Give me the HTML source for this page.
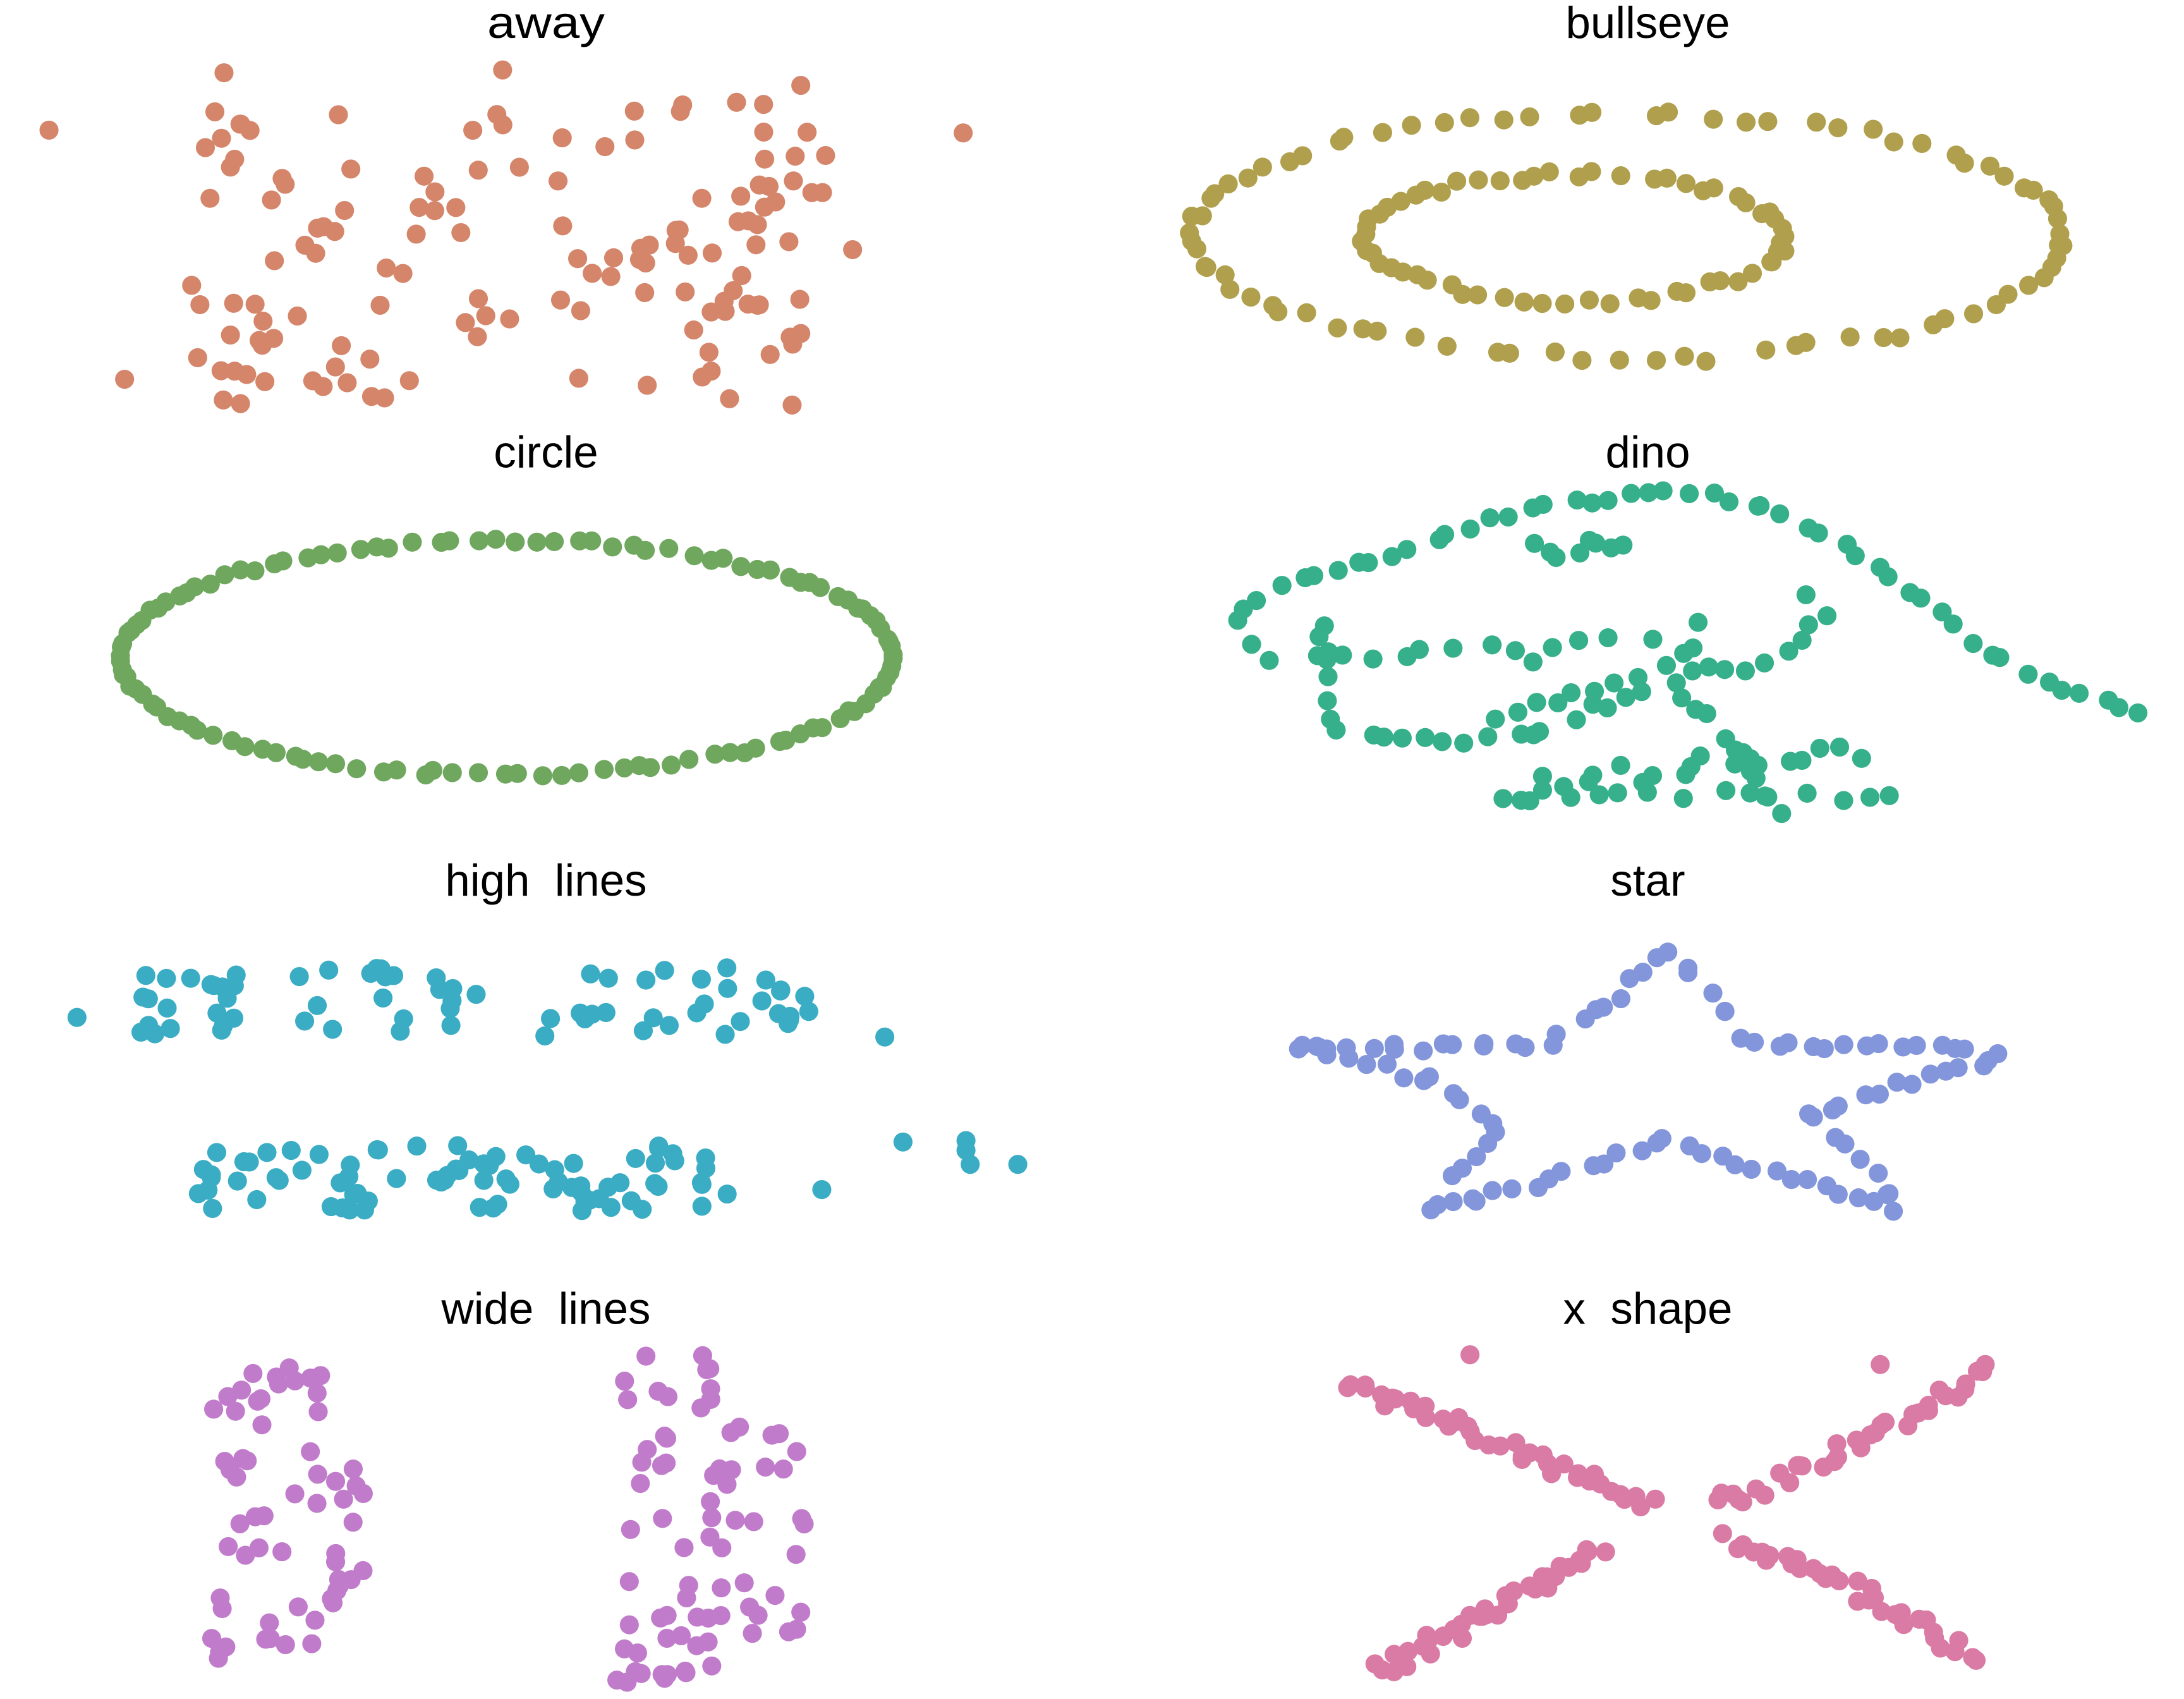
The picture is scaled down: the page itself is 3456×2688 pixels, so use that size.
<!DOCTYPE html>
<html><head><meta charset="utf-8">
<style>
html,body{margin:0;padding:0;background:#fff;width:3456px;height:2688px;overflow:hidden}
svg{display:block}
text{font-family:"Liberation Sans",sans-serif;font-size:32px;fill:#000;text-anchor:middle;white-space:pre}
</style></head>
<body>
<svg id="s" width="3456" height="2688" viewBox="0 0 1560 1214" preserveAspectRatio="none" xmlns="http://www.w3.org/2000/svg">
<text x="390" y="27" textLength="84" lengthAdjust="spacingAndGlyphs">away</text>
<text x="1177" y="27">bullseye</text>
<text x="390" y="334">circle</text>
<text x="1177" y="334">dino</text>
<text x="390" y="640" xml:space="preserve">high  lines</text>
<text x="1177" y="640">star</text>
<text x="390" y="946" xml:space="preserve">wide  lines</text>
<text x="1177" y="946" xml:space="preserve">x  shape</text>
<g id="g"></g>
</svg>
<script>
var seed=12345;function R(){seed=(seed*1103515245+12345)%2147483648;return seed/2147483648;}
var g=document.getElementById('g'),out='';
function P(x,y,c){out+='<circle cx="'+x.toFixed(1)+'" cy="'+y.toFixed(1)+'" r="6.8" fill="'+c+'"/>';}
function poly(pts,n,c,j){var L=[],T=0;for(var i=1;i<pts.length;i++){var d=Math.hypot(pts[i][0]-pts[i-1][0],pts[i][1]-pts[i-1][1]);L.push(d);T+=d;}
for(var k=0;k<n;k++){var t=(k+0.5+(R()-.5)*0.8)/n*T,i=0;while(t>L[i]&&i<L.length-1){t-=L[i];i++;}var f=Math.min(1,Math.max(0,t/L[i]));P(pts[i][0]+(pts[i+1][0]-pts[i][0])*f+(R()-.5)*j,pts[i][1]+(pts[i+1][1]-pts[i][1])*f+(R()-.5)*j,c);}}
// away
var c='#D4856A';P(35,93,c);P(688,95,c);P(160,52,c);P(359,50,c);P(572,61,c);P(89,271,c);
for(var i=0;i<135;i++){var x=R()<.5?135+R()*240:395+R()*215;P(x,70+R()*220,c);}
// bullseye
c='#B0A04E';
for(var i=0;i<80;i++){var a=(i+R()*0.7)/80*6.283;P(1163+312*Math.cos(a)+(R()-.5)*8,168+88*Math.sin(a)+(R()-.5)*8,c);}
for(var i=0;i<60;i++){var a=(i+R()*0.7)/60*6.283;P(1125+150*Math.cos(a)+(R()-.5)*8,170+45*Math.sin(a)+(R()-.5)*6,c);}
// circle
c='#6FA75E';
for(var i=0;i<120;i++){var a=(i+R()*0.8)/120*6.283;P(362+276*Math.cos(a),470+84*Math.sin(a)+(R()-.5)*4,c);}
// dino
c='#36B08A';
poly([[880,455],[885,440],[910,418],[965,405],[1020,388],[1060,372],[1100,362],[1150,356],[1185,352],[1220,353],[1250,360],[1280,370],[1310,385],[1340,405],[1370,425],[1400,450],[1430,472],[1470,490],[1535,512]],50,c,4);
poly([[880,455],[910,470],[940,470],[965,470],[1000,468],[1040,465],[1080,463],[1120,460],[1160,458],[1190,460]],14,c,6);
poly([[945,505],[960,520],[1000,530],[1040,530],[1070,530],[1100,522],[1140,505],[1175,490],[1210,480],[1250,478],[1280,468],[1300,440]],26,c,8);
poly([[945,440],[945,470],[945,505]],6,c,8);
poly([[1080,580],[1100,560],[1140,555],[1180,553],[1210,548],[1260,540],[1330,538]],20,c,16);
poly([[1070,568],[1150,568],[1250,568],[1360,568]],14,c,8);
poly([[1090,390],[1110,395],[1130,390],[1150,390],[1170,385]],8,c,12);
poly([[1060,520],[1110,498],[1160,490],[1210,465],[1220,440]],12,c,10);
poly([[1200,495],[1230,520],[1245,540],[1275,585]],10,c,6);
P(1095,473,c);P(1305,440,c);P(1290,425,c);
// high lines
c='#3AACC3';
P(55,727,c);P(632,741,c);P(645,816,c);P(727,832,c);P(587,850,c);
for(var i=0;i<70;i++)P(100+R()*480,690+R()*52,c);
for(var i=0;i<80;i++)P(135+R()*390,818+R()*48,c);
P(690,815,c);P(693,832,c);P(690,822,c);
// star
c='#8396DB';
poly([[1188,675],[1225,715],[1245,740],[1280,748],[1375,748],[1430,755],[1360,775],[1290,795],[1340,840],[1358,865],[1290,845],[1230,828],[1188,815],[1140,832],[1090,848],[1060,855],[1020,865],[1040,835],[1075,807],[1030,775],[985,762],[920,745],[965,748],[1030,748],[1110,745],[1160,708],[1188,675]],110,c,6);
// wide lines
c='#C07CCB';
for(var i=0;i<60;i++){var y=975+R()*210,w=(y<1030||y>1160)?80:115;P(150+R()*w,y,c);}
for(var i=0;i<75;i++){var y=968+R()*235,w=(y<1010||y>1170)?70:135;P(440+R()*w,y,c);}
// x shape
c='#DA7BA5';
poly([[955,988],[1030,1015],[1100,1045],[1180,1077]],40,c,12);
poly([[980,1195],[1040,1165],[1090,1135],[1145,1107]],40,c,12);
poly([[1220,1077],[1300,1045],[1360,1015],[1420,975]],34,c,12);
poly([[1230,1100],[1290,1120],[1350,1150],[1415,1185]],34,c,12);
P(1050,968,c);P(1343,975,c);P(1418,975,c);
g.innerHTML=out;
</script>
</body></html>
